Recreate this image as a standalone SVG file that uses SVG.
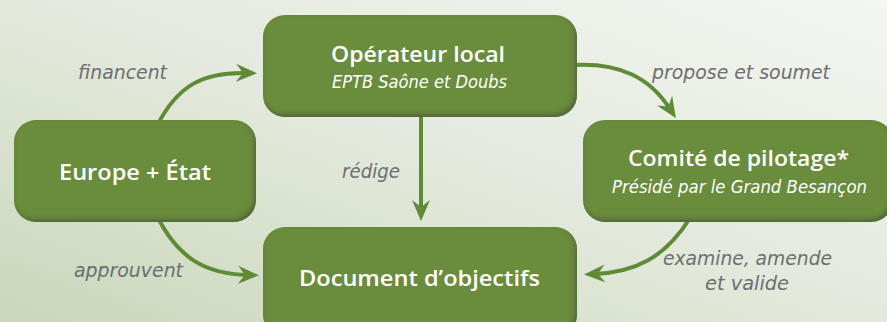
<svg xmlns="http://www.w3.org/2000/svg" width="887" height="322" viewBox="0 0 887 322">
  <defs>
    <linearGradient id="bg" x1="0" y1="1" x2="1" y2="0">
      <stop offset="0" stop-color="#c9d7ba"/>
      <stop offset="0.5" stop-color="#e3e9dc"/>
      <stop offset="1" stop-color="#f4f6f2"/>
    </linearGradient>
    <filter id="bevel" x="-10%" y="-20%" width="120%" height="140%">
      <feComponentTransfer in="SourceAlpha" result="inv">
        <feFuncA type="linear" slope="-1" intercept="1"/>
      </feComponentTransfer>
      <feGaussianBlur in="inv" stdDeviation="2.5" result="blur"/>
      <feOffset in="blur" dx="-2" dy="-3" result="off"/>
      <feFlood flood-color="#46503a" flood-opacity="0.75"/>
      <feComposite in2="off" operator="in" result="shadow"/>
      <feComposite in="shadow" in2="SourceAlpha" operator="in" result="inner"/>
      <feMerge>
        <feMergeNode in="SourceGraphic"/>
        <feMergeNode in="inner"/>
      </feMerge>
    </filter>
    <marker id="arrow" markerUnits="userSpaceOnUse" markerWidth="22" markerHeight="20" viewBox="0 0 22 20" refX="10" refY="10" orient="auto">
      <path d="M0,1 L21,10 L0,19 L7,10 z" fill="#5f8b36"/>
    </marker>
  </defs>
  <style>
    .box { fill: #6a8c3c; filter: url(#bevel); }
    .title { font-family: "Open Sans", "DejaVu Sans", sans-serif; font-weight: 600; font-size: 22px; fill: #ffffff; }
    .sub { font-family: "DejaVu Sans Condensed", "DejaVu Sans", sans-serif; font-style: italic; font-size: 17px; fill: #ffffff; }
    .lbl { font-family: "DejaVu Sans Condensed", "DejaVu Sans", sans-serif; font-style: italic; font-size: 20px; fill: #6c6e72; }
    .conn { fill: none; stroke: #5f8b36; stroke-width: 4; marker-end: url(#arrow); }
  </style>
  <rect width="887" height="322" fill="url(#bg)"/>

  <g id="connectors">
    <path class="conn" d="M157,126 C178,84 205,72 246,73"/>
    <path class="conn" d="M421,112 L421,210"/>
    <path class="conn" d="M572,65 C620,62 650,78 670,109"/>
    <path class="conn" d="M690,218 C665,258 635,272 595,274"/>
    <path class="conn" d="M157,216 C178,258 205,274 248,275"/>
  </g>

  <g id="labels">
    <text class="lbl" x="78" y="79" textLength="89" lengthAdjust="spacingAndGlyphs">financent</text>
    <text class="lbl" x="342" y="178" textLength="58" lengthAdjust="spacingAndGlyphs">rédige</text>
    <text class="lbl" x="74" y="277" textLength="109" lengthAdjust="spacingAndGlyphs">approuvent</text>
    <text class="lbl" x="652" y="79" textLength="178" lengthAdjust="spacingAndGlyphs">propose et soumet</text>
    <text class="lbl" x="663" y="265" textLength="169" lengthAdjust="spacingAndGlyphs">examine, amende</text>
    <text class="lbl" x="705" y="290" textLength="84" lengthAdjust="spacingAndGlyphs">et valide</text>
  </g>

  <g id="node-operateur">
    <rect class="box" x="263" y="15" width="314" height="102" rx="22"/>
    <text class="title" x="331" y="62" textLength="174" lengthAdjust="spacingAndGlyphs">Opérateur local</text>
    <text class="sub" x="332" y="88" textLength="175" lengthAdjust="spacingAndGlyphs">EPTB Saône et Doubs</text>
  </g>

  <g id="node-europe">
    <rect class="box" x="14" y="120" width="242" height="102" rx="22"/>
    <text class="title" x="59" y="180" textLength="152" lengthAdjust="spacingAndGlyphs">Europe + État</text>
  </g>

  <g id="node-comite">
    <rect class="box" x="583" y="120" width="310" height="102" rx="22"/>
    <text class="title" x="628" y="166" textLength="221" lengthAdjust="spacingAndGlyphs">Comité de pilotage*</text>
    <text class="sub" x="612" y="193" textLength="255" lengthAdjust="spacingAndGlyphs">Présidé par le Grand Besançon</text>
  </g>

  <g id="node-document">
    <rect class="box" x="263" y="227" width="314" height="110" rx="22"/>
    <text class="title" x="299" y="286" textLength="241" lengthAdjust="spacingAndGlyphs">Document d’objectifs</text>
  </g>
</svg>
